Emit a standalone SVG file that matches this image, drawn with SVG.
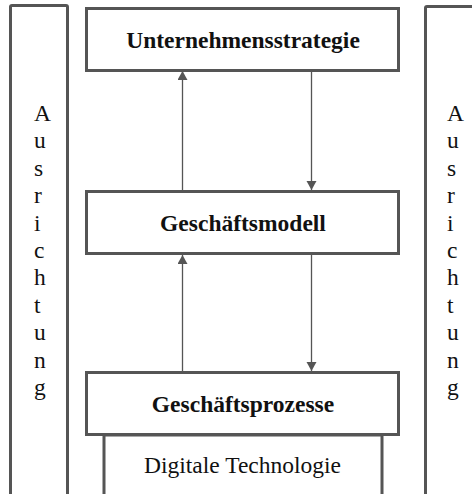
<svg xmlns="http://www.w3.org/2000/svg" width="472" height="494" viewBox="0 0 472 494">
  <style>
    .box { fill: #ffffff; stroke: #555555; stroke-width: 3; }
    .bar { fill: #ffffff; stroke: #555555; stroke-width: 3; }
    .link { stroke: #555555; stroke-width: 1.3; fill: none; }
    .title { font-family: "Liberation Serif", "Times New Roman", serif; font-size: 23.5px; font-weight: bold; fill: #111111; text-anchor: middle; }
    .plain { font-family: "Liberation Serif", "Times New Roman", serif; font-size: 23.5px; fill: #111111; }
  </style>
  <defs>
    <marker id="arrow" markerUnits="userSpaceOnUse" markerWidth="11" markerHeight="11" refX="9" refY="5" orient="auto">
      <path d="M0,0 L9,5 L0,10 z" fill="#555555"/>
    </marker>
  </defs>

  <!-- side bars: Ausrichtung -->
  <g id="ausrichtung-links">
    <rect class="bar" x="10.5" y="5.5" width="57" height="500" rx="1.5"/>
    <text class="plain" x="34"><tspan x="34" y="121">A</tspan><tspan x="34" dy="27.4">u</tspan><tspan x="34" dy="27.4">s</tspan><tspan x="34" dy="27.4">r</tspan><tspan x="34" dy="27.4">i</tspan><tspan x="34" dy="27.4">c</tspan><tspan x="34" dy="27.4">h</tspan><tspan x="34" dy="27.4">t</tspan><tspan x="34" dy="27.4">u</tspan><tspan x="34" dy="27.4">n</tspan><tspan x="34" dy="27.4">g</tspan></text>
  </g>
  <g id="ausrichtung-rechts">
    <rect class="bar" x="425.5" y="6.5" width="57" height="500" rx="1.5"/>
    <text class="plain" x="447"><tspan x="447" y="121">A</tspan><tspan x="447" dy="27.4">u</tspan><tspan x="447" dy="27.4">s</tspan><tspan x="447" dy="27.4">r</tspan><tspan x="447" dy="27.4">i</tspan><tspan x="447" dy="27.4">c</tspan><tspan x="447" dy="27.4">h</tspan><tspan x="447" dy="27.4">t</tspan><tspan x="447" dy="27.4">u</tspan><tspan x="447" dy="27.4">n</tspan><tspan x="447" dy="27.4">g</tspan></text>
  </g>

  <!-- base layer -->
  <g id="digitale-technologie">
    <rect class="box" x="104" y="435" width="278" height="70"/>
    <text class="plain" x="242.5" y="472.5" text-anchor="middle">Digitale Technologie</text>
  </g>

  <!-- stacked levels -->
  <g id="unternehmensstrategie">
    <rect class="box" x="86.5" y="8.5" width="312" height="62"/>
    <text class="title" x="243" y="47.5">Unternehmensstrategie</text>
  </g>
  <g id="geschaeftsmodell">
    <rect class="box" x="86.5" y="191.5" width="312" height="62"/>
    <text class="title" x="243" y="231">Geschäftsmodell</text>
  </g>
  <g id="geschaeftsprozesse">
    <rect class="box" x="86.5" y="372.5" width="312" height="62"/>
    <text class="title" x="243" y="412">Geschäftsprozesse</text>
  </g>

  <!-- connectors -->
  <g id="connectors">
    <line class="link" x1="182.5" y1="190" x2="182.5" y2="71" marker-end="url(#arrow)"/>
    <line class="link" x1="311.5" y1="71" x2="311.5" y2="190" marker-end="url(#arrow)"/>
    <line class="link" x1="182.5" y1="371" x2="182.5" y2="255" marker-end="url(#arrow)"/>
    <line class="link" x1="311.5" y1="255" x2="311.5" y2="371" marker-end="url(#arrow)"/>
  </g>
</svg>
